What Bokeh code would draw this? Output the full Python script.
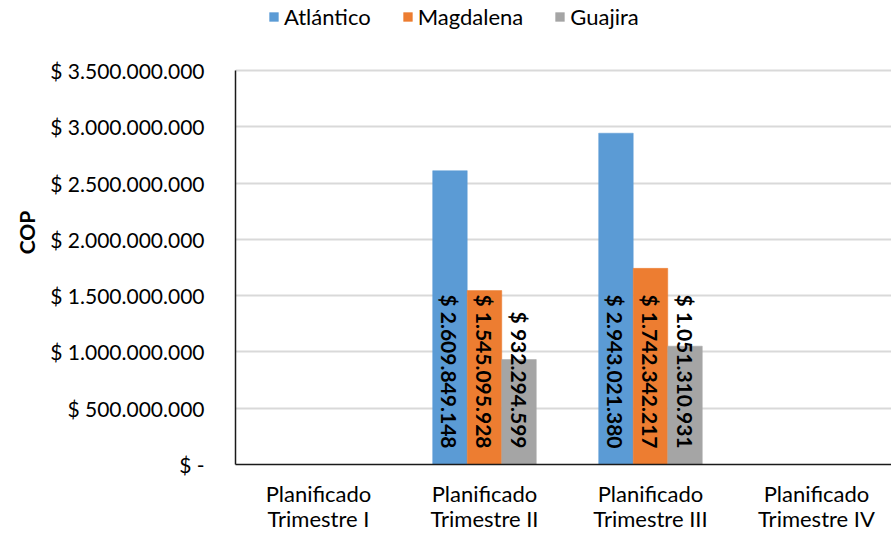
from bokeh.plotting import figure
from bokeh.models import (ColumnDataSource, Legend, LegendItem, FixedTicker, Range1d)
from bokeh.transform import dodge
from bokeh.core.properties import value
from bokeh.embed import file_html
from bokeh.resources import INLINE
import math

# ---- data ----
categories = ["Planificado\nTrimestre I", "Planificado\nTrimestre II",
              "Planificado\nTrimestre III", "Planificado\nTrimestre IV"]
series_names = ["Atlántico", "Magdalena", "Guajira"]
atlantico = [0, 2609849148, 2943021380, 0]
magdalena = [0, 1545095928, 1742342217, 0]
guajira = [0, 932294599, 1051310931, 0]
colors = ["#5B9BD5", "#ED7D31", "#A5A5A5"]
y_ticks = [0, 500000000, 1000000000, 1500000000, 2000000000, 2500000000, 3000000000, 3500000000]
y_tick_labels = ["$ -", "$ 500.000.000", "$ 1.000.000.000", "$ 1.500.000.000",
                 "$ 2.000.000.000", "$ 2.500.000.000", "$ 3.000.000.000", "$ 3.500.000.000"]

FONT = "Lato"
FS = "21px"
FS2 = "22px"

def fmt(v):
    return "$ " + f"{v:,}".replace(",", ".")

xpos = [i + 0.5 for i in range(len(categories))]

# plot area: axis region 394 px tall, plus 70 px headroom above for the legend
y_max = y_ticks[-1]
y_end = y_max * 464.0 / 394.0

p = figure(width=891, height=535, output_backend="svg", toolbar_location=None,
           x_range=Range1d(0, 3.952), y_range=Range1d(0, y_end),
           min_border_left=235, min_border_right=0, min_border_top=0, min_border_bottom=71)
p.outline_line_color = None
p.background_fill_color = "white"
p.border_fill_color = "white"

bw = 0.208
offsets = [-bw, 0.0, bw]
series_vals = [atlantico, magdalena, guajira]
renderers = []
for name, vals, col, off in zip(series_names, series_vals, colors, offsets):
    src = ColumnDataSource(dict(x=xpos, top=vals))
    r = p.vbar(x=dodge("x", off), top="top", width=bw, source=src,
               fill_color=col, line_color=col, line_width=0.5)
    renderers.append(r)
    keep = [i for i, v in enumerate(vals) if v > 0]
    lsrc = ColumnDataSource(dict(x=[xpos[i] for i in keep], y=[0] * len(keep),
                                 t=[fmt(vals[i]) for i in keep]))
    p.text(x=dodge("x", off), y="y", text="t", source=lsrc, angle=-math.pi / 2,
           text_align="right", text_baseline="middle", y_offset=-16,
           text_font=value(FONT), text_font_size=FS, text_font_style="bold",
           text_color="black")

# axes
p.yaxis.ticker = FixedTicker(ticks=y_ticks)
p.yaxis.bounds = (0, y_max)
p.yaxis.major_label_overrides = {t: l for t, l in zip(y_ticks, y_tick_labels)}
p.yaxis.major_tick_line_color = None
p.yaxis.minor_tick_line_color = None
p.yaxis.axis_line_color = "#1a1a1a"
p.yaxis.axis_line_width = 1.5
p.yaxis.major_label_text_font = FONT
p.yaxis.major_label_text_font_size = FS
p.yaxis.major_label_text_color = "black"
p.yaxis.major_label_standoff = 25
p.yaxis.axis_label = "COP"
p.yaxis.axis_label_text_font = FONT
p.yaxis.axis_label_text_font_size = FS
p.yaxis.axis_label_text_font_style = "bold"
p.yaxis.axis_label_text_color = "black"
p.yaxis.axis_label_standoff = 8

p.xaxis.ticker = FixedTicker(ticks=xpos)
p.xaxis.major_label_overrides = {x: c for x, c in zip(xpos, categories)}
p.xaxis.major_tick_line_color = None
p.xaxis.minor_tick_line_color = None
p.xaxis.axis_line_color = "#1a1a1a"
p.xaxis.axis_line_width = 1.5
p.xaxis.major_label_text_font = FONT
p.xaxis.major_label_text_font_size = FS2
p.xaxis.major_label_text_line_height = 0.95
p.xaxis.major_label_text_color = "black"
p.xaxis.major_label_standoff = 9

p.xgrid.grid_line_color = None
p.ygrid.ticker = FixedTicker(ticks=y_ticks[1:])
p.ygrid.grid_line_color = "#D9D9D9"
p.ygrid.grid_line_width = 2

legend = Legend(items=[LegendItem(label=n, renderers=[r]) for n, r in zip(series_names, renderers)],
                orientation="horizontal", location=(33, 434),
                glyph_width=11, glyph_height=11, label_standoff=5, spacing=31,
                padding=0, margin=0, border_line_color=None, background_fill_alpha=0,
                label_text_font=FONT, label_text_font_size=FS2, label_text_color="black")
p.add_layout(legend, "center")

open("out.html", "w").write(file_html(p, INLINE))
